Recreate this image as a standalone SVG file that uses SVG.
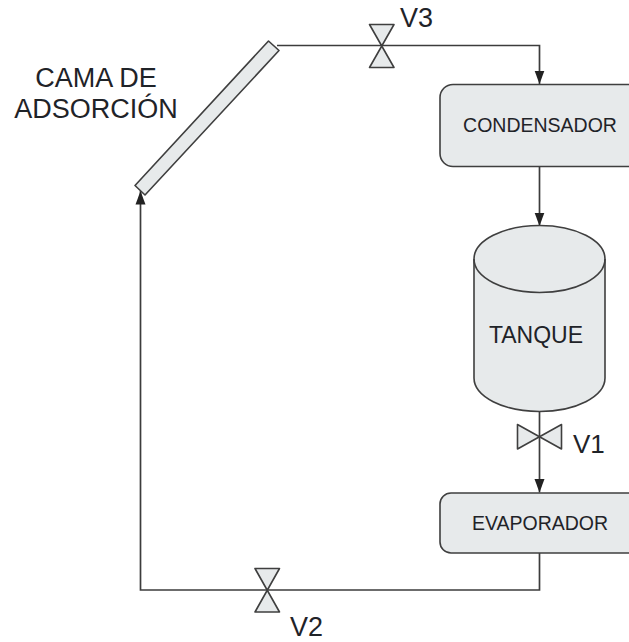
<svg xmlns="http://www.w3.org/2000/svg" width="629" height="642" viewBox="0 0 629 642">
<style>
.s{fill:#e7eaeb;stroke:#3f3f3f;stroke-width:1.6;stroke-linejoin:round}
.c{fill:none;stroke:#3c3c3c;stroke-width:1.7}
.t{font-family:"Liberation Sans",Arial,sans-serif;fill:#1f2328}
</style>
<defs>
<marker id="a" markerUnits="userSpaceOnUse" markerWidth="14" markerHeight="11" refX="13.500" refY="5.500" orient="auto"><path d="M0 0.500L13.500 5.500L0 10.500Z" fill="#222"/></marker>
</defs>
<rect width="629" height="642" fill="#fff"/>
<g id="connectors">
<path class="c" d="M277 45.500H539.500V84" marker-end="url(#a)"/>
<path class="c" d="M539.500 166V226" marker-end="url(#a)"/>
<path class="c" d="M539.500 412V492.500" marker-end="url(#a)"/>
<path class="c" d="M539.500 553V590H140.500V191" marker-end="url(#a)"/>
</g>
<g id="cama"><polygon class="s" points="268.500,41 279,50.500 145,195 135,185.500"/>
<text class="t" font-size="27" text-anchor="middle" x="96" y="86.500">CAMA DE</text>
<text class="t" font-size="27" text-anchor="middle" x="96" y="118">ADSORCIÓN</text></g>
<g id="v3"><path class="s" d="M369.500 24.500H394L369.500 67.500H394Z"/><text class="t" font-size="27" x="400" y="27">V3</text></g>
<g id="condensador"><rect class="s" x="440" y="84.500" width="210" height="82" rx="13"/>
<text class="t" font-size="19.500" text-anchor="middle" x="540" y="132">CONDENSADOR</text></g>
<g id="tanque"><path class="s" d="M474 259V378A65.500 33.500 0 0 0 605 378V259A65.500 33.500 0 0 0 474 259Z"/>
<path class="s" style="fill:none" d="M474 259A65.500 33.500 0 0 0 605 259"/>
<text class="t" font-size="23" text-anchor="middle" x="536" y="343">TANQUE</text></g>
<g id="v1"><path class="s" d="M517.500 424.500V449L561.500 424.500V449Z"/><text class="t" font-size="26" x="573" y="453">V1</text></g>
<g id="evaporador"><rect class="s" x="440" y="493" width="210" height="60" rx="11"/>
<text class="t" font-size="19.500" text-anchor="middle" x="540" y="530">EVAPORADOR</text></g>
<g id="v2"><path class="s" d="M255 568.500H279.500L255 612H279.500Z"/><text class="t" font-size="27" x="290" y="636">V2</text></g>
</svg>
